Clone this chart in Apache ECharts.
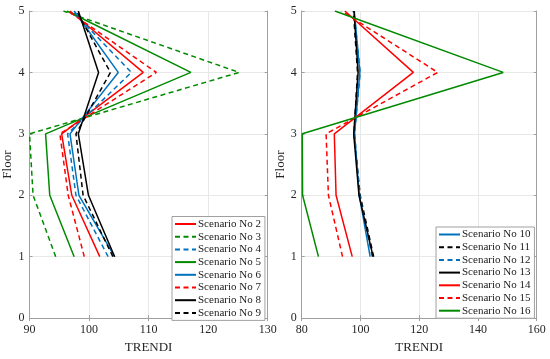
<!DOCTYPE html>
<html><head><meta charset="utf-8">
<script src="https://cdn.jsdelivr.net/npm/echarts@6/dist/echarts.min.js"></script>
<style>html,body{margin:0;padding:0;background:#fff}#c{width:550px;height:359px}</style>
</head><body><div id="c"></div>
<script>
const floors = [1, 2, 3, 4, 5];
const yTicks = [0, 1, 2, 3, 4, 5];
const leftXTicks = [90, 100, 110, 120, 130];
const rightXTicks = [80, 100, 120, 140, 160];

// left panel, TRENDI value at floors 1..5
const s2 = [101.8, 97.1, 95.4, 109.1, 96.8];
const s3 = [94.4, 90.6, 90.0, 125.2, 95.7];
const s4 = [103.2, 97.8, 96.4, 107.1, 97.2];
const s5 = [97.5, 93.4, 92.7, 117.1, 96.3];
const s6 = [104.3, 98.3, 96.8, 104.9, 97.5];
const s7 = [99.2, 96.5, 95.1, 111.3, 96.5];
const s8 = [104.3, 99.9, 98.2, 101.6, 98.2];
const s9 = [104.0, 99.0, 97.8, 103.6, 97.9];
// right panel
const s10 = [103.3, 99.6, 98.0, 99.8, 97.9];
const s11 = [104.5, 99.9, 97.8, 99.0, 97.6];
const s12 = [104.0, 99.7, 98.0, 99.9, 97.8];
const s13 = [104.3, 99.5, 97.7, 99.2, 97.8];
const s14 = [97.2, 91.7, 91.1, 118.0, 94.7];
const s15 = [93.9, 89.1, 88.3, 126.3, 93.6];
const s16 = [85.7, 80.3, 80.2, 148.6, 91.3];

const leftNames = ['Scenario No 2','Scenario No 3','Scenario No 4','Scenario No 5','Scenario No 6','Scenario No 7','Scenario No 8','Scenario No 9'];
const rightNames = ['Scenario No 10','Scenario No 11','Scenario No 12','Scenario No 13','Scenario No 14','Scenario No 15','Scenario No 16'];

const RED = '#ff0000', GREEN = '#008a00', BLUE = '#0072bd', BLACK = '#000000';
const DASH = [5, 3.5];
const FONT = '"Liberation Serif", "Times New Roman", serif';

const leftSpec = [[s2, RED, 'solid'], [s3, GREEN, DASH], [s4, BLUE, DASH], [s5, GREEN, 'solid'], [s6, BLUE, 'solid'], [s7, RED, DASH], [s8, BLACK, 'solid'], [s9, BLACK, DASH]];
const rightSpec = [[s10, BLUE, 'solid'], [s11, BLACK, DASH], [s12, BLUE, DASH], [s13, BLACK, 'solid'], [s14, RED, 'solid'], [s15, RED, DASH], [s16, GREEN, 'solid']];

const AX = '#a0a0a0', GRIDC = '#e8e8e8', TXT = '#262626';

function xAxes(gi, min, max, interval) {
  return [{
    type: 'value', gridIndex: gi, min, max, interval, position: 'bottom',
    name: 'TRENDI', nameLocation: 'middle', nameGap: 20,
    nameTextStyle: { fontFamily: FONT, fontSize: 13, color: TXT },
    axisLine: { show: true, lineStyle: { color: AX, width: 1 } },
    axisTick: { show: true, inside: true, length: 3, lineStyle: { color: AX } },
    axisLabel: { fontFamily: FONT, fontSize: 12, color: TXT, margin: 6 },
    splitLine: { show: true, lineStyle: { color: GRIDC, width: 1 } }
  }, {
    type: 'value', gridIndex: gi, min, max, interval, position: 'top',
    axisLine: { show: true, lineStyle: { color: AX, width: 1 } },
    axisTick: { show: true, inside: true, length: 3, lineStyle: { color: AX } },
    axisLabel: { show: false }, splitLine: { show: false }
  }];
}
function yAxes(gi) {
  return [{
    type: 'value', gridIndex: gi, min: yTicks[0], max: yTicks[yTicks.length - 1], interval: 1, position: 'left',
    name: 'Floor', nameLocation: 'middle', nameGap: 15, nameRotate: 90,
    nameTextStyle: { fontFamily: FONT, fontSize: 13, color: TXT },
    axisLine: { show: true, lineStyle: { color: AX, width: 1 } },
    axisTick: { show: true, inside: true, length: 3, lineStyle: { color: AX } },
    axisLabel: { fontFamily: FONT, fontSize: 12, color: TXT, margin: 5 },
    splitLine: { show: true, lineStyle: { color: GRIDC, width: 1 } }
  }, {
    type: 'value', gridIndex: gi, min: yTicks[0], max: yTicks[yTicks.length - 1], interval: 1, position: 'right',
    axisLine: { show: true, lineStyle: { color: AX, width: 1 } },
    axisTick: { show: true, inside: true, length: 3, lineStyle: { color: AX } },
    axisLabel: { show: false }, splitLine: { show: false }
  }];
}

const series = [];
leftSpec.forEach((sp, i) => {
  series.push({
    type: 'line', name: leftNames[i], xAxisIndex: 0, yAxisIndex: 0,
    data: sp[0].map((v, k) => [v, floors[k]]), symbol: 'none', animation: false,
    lineStyle: { color: sp[1], width: 1.5, type: sp[2] }, itemStyle: { color: sp[1] }
  });
});
rightSpec.forEach((sp, i) => {
  series.push({
    type: 'line', name: rightNames[i], xAxisIndex: 2, yAxisIndex: 2,
    data: sp[0].map((v, k) => [v, floors[k]]), symbol: 'none', animation: false,
    lineStyle: { color: sp[1], width: 1.5, type: sp[2] }, itemStyle: { color: sp[1] }
  });
});

function legend(names, left, top) {
  return {
    data: names, orient: 'vertical', left, top, itemWidth: 21, itemHeight: 10, itemGap: 1.7,
    padding: [2, 4, 2, 2], backgroundColor: '#fff', borderColor: AX, borderWidth: 1, borderRadius: 0,
    textStyle: { fontFamily: FONT, fontSize: 11, color: '#1a1a1a', padding: [0, 0, 0, -3] },
    itemStyle: { opacity: 0 },
    selectedMode: false
  };
}

const chart = echarts.init(document.getElementById('c'), null, { renderer: 'canvas' });
chart.setOption({
  animation: false,
  backgroundColor: '#fff',
  grid: [
    { left: 29.5, right: 282.3, top: 11, bottom: 34, containLabel: false },
    { left: 301.7, right: 13.3, top: 11, bottom: 34, containLabel: false }
  ],
  xAxis: [...xAxes(0, leftXTicks[0], leftXTicks[leftXTicks.length - 1], 10), ...xAxes(1, rightXTicks[0], rightXTicks[rightXTicks.length - 1], 20)],
  yAxis: [...yAxes(0), ...yAxes(1)],
  legend: [legend(leftNames, 172, 216.5), legend(rightNames, 436, 227)],
  series
});
</script></body></html>
